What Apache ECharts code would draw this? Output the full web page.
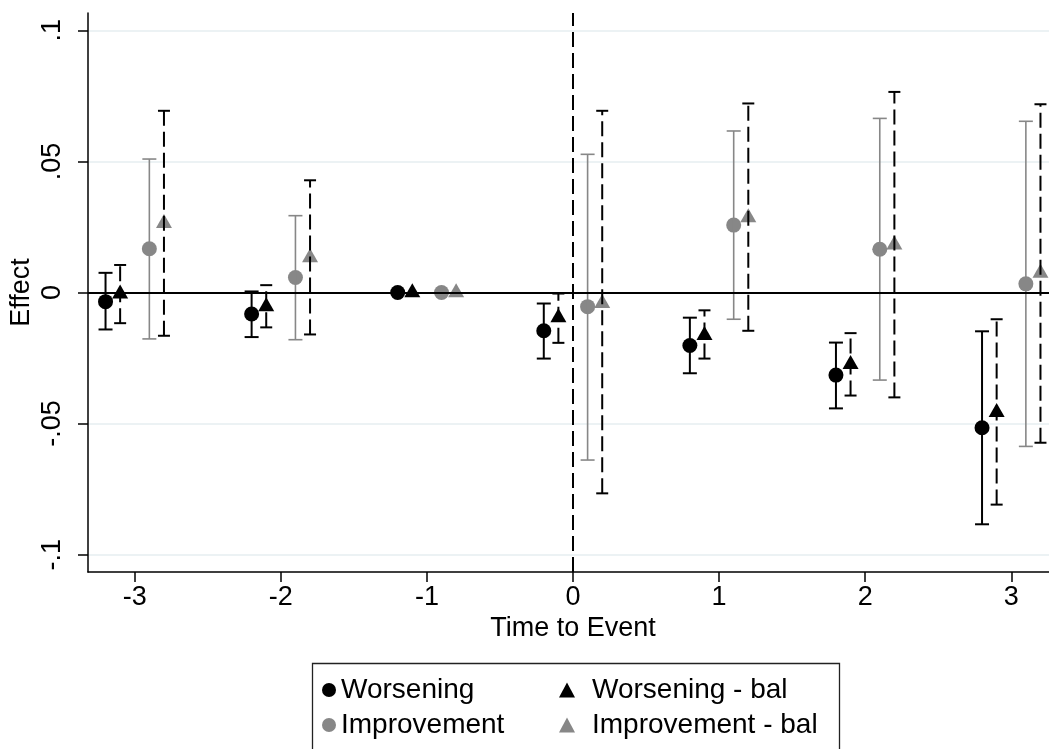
<!DOCTYPE html>
<html>
<head>
<meta charset="utf-8">
<script src="https://cdn.jsdelivr.net/npm/echarts@6/dist/echarts.min.js"></script>
<style>
html,body{margin:0;padding:0;background:#fff;}
#chart{width:1049px;height:749px;}
</style>
</head>
<body>
<div id="chart"></div>
<script>
// ---- data ----
const times = [-3, -2, -1, 0, 1, 2, 3];
const offsets = [-0.2, -0.1, 0.1, 0.2]; // Worsening, Worsening - bal, Improvement, Improvement - bal
const xTicks = [-3, -2, -1, 0, 1, 2, 3];
const yTicks = [-0.1, -0.05, 0, 0.05, 0.1];
const yTickLabels = ['-.1', '-.05', '0', '.05', '.1'];

const worsening      = [-0.0035, -0.0082, 0, -0.0146, -0.0202, -0.0315, -0.0516];
const worseningLo    = [-0.0141, -0.0170, null, -0.0252, -0.0308, -0.0442, -0.0884];
const worseningHi    = [ 0.0075,  0.0004, null, -0.0042, -0.0096, -0.0191, -0.0148];

const worseningBal   = [-0.0005, -0.0054, 0, -0.0096, -0.0163, -0.0274, -0.0457];
const worseningBalLo = [-0.0117, -0.0133, null, -0.0192, -0.0252, -0.0393, -0.0809];
const worseningBalHi = [ 0.0105,  0.0028, null, -0.0004, -0.0068, -0.0155, -0.0102];

const improvement    = [0.0167, 0.0057, 0, -0.0054, 0.0257, 0.0165, 0.0033];
const improvementLo  = [-0.0177, -0.0180, null, -0.0639, -0.0102, -0.0334, -0.0587];
const improvementHi  = [0.0509, 0.0293, null, 0.0527, 0.0616, 0.0664, 0.0653];

const improvementBal   = [0.0264, 0.0133, 0, -0.0041, 0.0286, 0.0182, 0.0074];
const improvementBalLo = [-0.0165, -0.0160, null, -0.0766, -0.0146, -0.0400, -0.0573];
const improvementBalHi = [0.0693, 0.0428, null, 0.0693, 0.0721, 0.0765, 0.0718];

const legendNames = ['Worsening', 'Improvement', 'Worsening - bal', 'Improvement - bal'];

// ---- styling ----
const BLACK = '#000000';
const GRAY = '#878787';
const FONT = "'Liberation Sans', Arial, sans-serif";
const DASH = [15, 6];

function pts(vals, off) {
  return times.map((t, i) => [t + off, vals[i]]);
}
function cis(lo, hi, off) {
  const out = [];
  times.forEach((t, i) => {
    if (lo[i] !== null && hi[i] !== null) out.push([t + off, lo[i], hi[i]]);
  });
  return out;
}
function ciSeries(id, lo, hi, off, color, dash, capW, lw) {
  return {
    id: id,
    type: 'custom',
    z: 4,
    silent: true,
    clip: false,
    data: cis(lo, hi, off),
    encode: { x: 0, y: [1, 2] },
    renderItem: function (params, api) {
      const x = api.value(0), l = api.value(1), h = api.value(2);
      const pl = api.coord([x, l]);
      const ph = api.coord([x, h]);
      const hw = capW / 2;
      return {
        type: 'group',
        children: [
          { type: 'line', shape: { x1: pl[0], y1: pl[1], x2: ph[0], y2: ph[1] },
            style: { stroke: color, lineWidth: lw, lineDash: dash } },
          { type: 'line', shape: { x1: pl[0] - hw, y1: pl[1], x2: pl[0] + hw, y2: pl[1] },
            style: { stroke: color, lineWidth: lw } },
          { type: 'line', shape: { x1: ph[0] - hw, y1: ph[1], x2: ph[0] + hw, y2: ph[1] },
            style: { stroke: color, lineWidth: lw } }
        ]
      };
    }
  };
}
function legendItem(name, left, top, w, h, textPad) {
  return {
    data: [name],
    orient: 'horizontal',
    left: left,
    top: top,
    padding: 0,
    itemWidth: w,
    itemHeight: h,
    selectedMode: false,
    textStyle: { fontSize: 28, color: BLACK, lineHeight: 30, fontFamily: FONT, padding: [0, 0, 0, textPad] }
  };
}

const chart = echarts.init(document.getElementById('chart'), null, { renderer: 'canvas' });

const option = {
  animation: false,
  backgroundColor: '#ffffff',
  textStyle: { fontFamily: FONT },
  grid: { left: 88, right: -9, top: 13, bottom: 177, containLabel: false, outerBoundsMode: 'none' },
  xAxis: {
    type: 'value',
    min: -3.32,
    max: 3.32,
    name: 'Time to Event',
    nameLocation: 'middle',
    nameGap: 43,
    nameMoveOverlap: false,
    nameTextStyle: { fontSize: 27, color: BLACK, fontFamily: FONT },
    axisLine: { onZero: false, lineStyle: { color: BLACK, width: 1.5 } },
    axisTick: { show: true, length: 10, customValues: xTicks, lineStyle: { color: BLACK, width: 1.5 } },
    axisLabel: { customValues: xTicks, fontSize: 27, color: BLACK, margin: 12, fontFamily: FONT,
                 formatter: v => String(v) },
    splitLine: { show: false }
  },
  yAxis: {
    type: 'value',
    min: -0.1066,
    max: 0.1066,
    name: 'Effect',
    nameLocation: 'middle',
    nameRotate: 90,
    nameGap: 53,
    nameMoveOverlap: false,
    nameTextStyle: { fontSize: 27, color: BLACK, fontFamily: FONT },
    axisLine: { show: true, onZero: false, lineStyle: { color: BLACK, width: 1.5 } },
    axisTick: { show: true, length: 10, customValues: yTicks, lineStyle: { color: BLACK, width: 1.5 } },
    axisLabel: {
      customValues: yTicks, rotate: 90, fontSize: 27, color: BLACK, margin: 22, fontFamily: FONT,
      formatter: v => {
        const i = yTicks.findIndex(t => Math.abs(t - v) < 1e-9);
        return i >= 0 ? yTickLabels[i] : '';
      }
    },
    splitLine: { show: true, lineStyle: { color: '#e6eef0', width: 1.5 } }
  },
  legend: [
    legendItem(legendNames[0], 322, 675, 14, 14, 0),
    legendItem(legendNames[1], 322, 710, 14, 14, 0),
    legendItem(legendNames[2], 559, 675, 16, 15, 12),
    legendItem(legendNames[3], 559, 710, 16, 15, 12)
  ],
  graphic: [
    {
      type: 'rect',
      left: 310,
      top: 661,
      shape: { width: 527, height: 100 },
      style: { fill: 'none', stroke: '#222', lineWidth: 1.3 },
      silent: true
    }
  ],
  series: [
    {
      id: 'reflines',
      type: 'line',
      data: [],
      z: 2,
      silent: true,
      markLine: {
        silent: true,
        symbol: ['none', 'none'],
        label: { show: false },
        data: [
          { yAxis: 0, lineStyle: { color: BLACK, width: 2, type: 'solid' } },
          { xAxis: 0, lineStyle: { color: BLACK, width: 2, type: DASH } }
        ]
      }
    },
    {
      name: legendNames[0], type: 'scatter', z: 3,
      symbol: 'circle', symbolSize: 15,
      itemStyle: { color: BLACK, opacity: 1 },
      data: pts(worsening, offsets[0])
    },
    {
      name: legendNames[2], type: 'scatter', z: 3,
      symbol: 'triangle', symbolSize: [16, 14], symbolOffset: [0, -2.3],
      itemStyle: { color: BLACK, opacity: 1 },
      data: pts(worseningBal, offsets[1])
    },
    {
      name: legendNames[1], type: 'scatter', z: 3,
      symbol: 'circle', symbolSize: 15,
      itemStyle: { color: GRAY, opacity: 1 },
      data: pts(improvement, offsets[2])
    },
    {
      name: legendNames[3], type: 'scatter', z: 3,
      symbol: 'triangle', symbolSize: [16, 14], symbolOffset: [0, -2.3],
      itemStyle: { color: GRAY, opacity: 1 },
      data: pts(improvementBal, offsets[3])
    },
    ciSeries('ci-w', worseningLo, worseningHi, offsets[0], BLACK, null, 14, 2),
    ciSeries('ci-wb', worseningBalLo, worseningBalHi, offsets[1], BLACK, DASH, 12, 2),
    ciSeries('ci-i', improvementLo, improvementHi, offsets[2], GRAY, null, 14, 1.6),
    ciSeries('ci-ib', improvementBalLo, improvementBalHi, offsets[3], BLACK, DASH, 12, 2)
  ]
};

chart.setOption(option);
</script>
</body>
</html>
